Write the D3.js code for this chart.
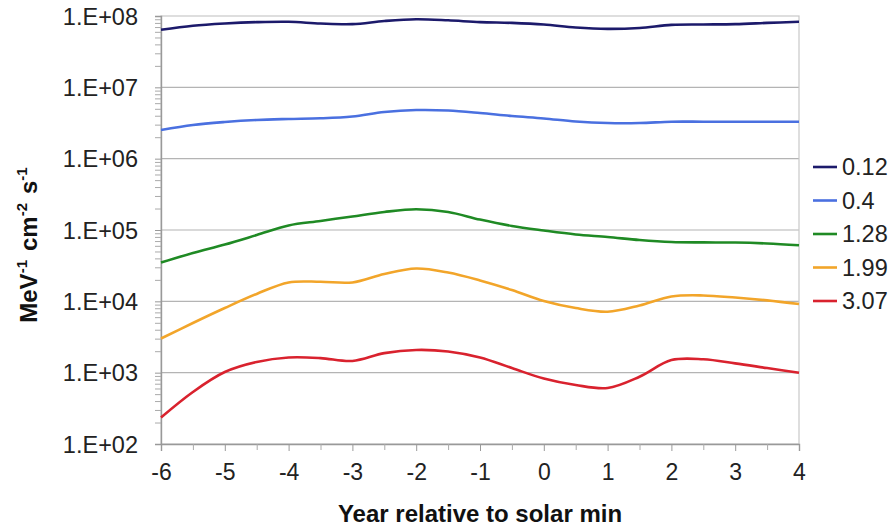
<!DOCTYPE html>
<html>
<head>
<meta charset="utf-8">
<script src="https://cdn.jsdelivr.net/npm/d3@7"></script>
<style>
  body { margin: 0; background: #fff; }
  svg { font-family: "Liberation Sans", Arial, sans-serif; }
</style>
</head>
<body>
<div id="chart"></div>
<script>
// years relative to solar minimum (half-year steps)
var years = [-6, -5.5, -5, -4.5, -4, -3.5, -3, -2.5, -2, -1.5, -1, -0.5, 0, 0.5, 1, 1.5, 2, 2.5, 3, 3.5, 4];

// flux per energy channel
var flux012 = [6.4e7, 7.3e7, 7.85e7, 8.2e7, 8.3e7, 7.85e7, 7.7e7, 8.5e7, 9.0e7, 8.7e7, 8.2e7, 8.0e7, 7.6e7, 6.9e7, 6.6e7, 6.8e7, 7.5e7, 7.6e7, 7.7e7, 8.0e7, 8.3e7];
var flux04 = [2.52e6, 2.97e6, 3.27e6, 3.49e6, 3.6e6, 3.68e6, 3.9e6, 4.5e6, 4.8e6, 4.73e6, 4.37e6, 3.96e6, 3.66e6, 3.32e6, 3.16e6, 3.16e6, 3.3e6, 3.3e6, 3.3e6, 3.3e6, 3.3e6];
var flux128 = [3.5e4, 4.76e4, 6.26e4, 8.5e4, 1.16e5, 1.34e5, 1.55e5, 1.79e5, 1.95e5, 1.79e5, 1.4e5, 1.14e5, 9.84e4, 8.65e4, 7.98e4, 7.24e4, 6.79e4, 6.7e4, 6.67e4, 6.47e4, 6.1e4];
var flux199 = [3.01e3, 4.97e3, 8.06e3, 1.27e4, 1.84e4, 1.88e4, 1.84e4, 2.42e4, 2.88e4, 2.53e4, 1.96e4, 1.44e4, 1.01e4, 8.06e3, 7.16e3, 8.74e3, 1.17e4, 1.21e4, 1.13e4, 1.03e4, 9.18e3];
var flux307 = [235, 536, 1020, 1410, 1630, 1600, 1460, 1880, 2080, 1980, 1630, 1160, 828, 671, 610, 877, 1500, 1540, 1350, 1160, 998];

var seriesNames = ["0.12", "0.4", "1.28", "1.99", "3.07"];
var seriesData = [flux012, flux04, flux128, flux199, flux307];
var seriesColors = ["#1c1a6b", "#4a70e0", "#1f8a24", "#f2a52a", "#d9222e"];

var xTicks = [-6, -5, -4, -3, -2, -1, 0, 1, 2, 3, 4];
var yTicks = [1e2, 1e3, 1e4, 1e5, 1e6, 1e7, 1e8];

var W = 896, H = 529;
var margin = {top: 16, right: 97, bottom: 85, left: 161};
var width = W - margin.left - margin.right,
    height = H - margin.top - margin.bottom;

var svg = d3.select("#chart").append("svg")
  .attr("width", W)
  .attr("height", H);

var g = svg.append("g")
  .attr("transform", "translate(" + margin.left + "," + margin.top + ")");

var x = d3.scaleLinear().domain([-6, 4]).range([0, width]);
var y = d3.scaleLog().domain([1e2, 1e8]).range([height, 0]);

// gridlines at each decade
g.append("g")
  .selectAll("line")
  .data(yTicks.slice(1, -1))
  .join("line")
    .attr("x1", 0).attr("x2", width)
    .attr("y1", function(d) { return y(d); })
    .attr("y2", function(d) { return y(d); })
    .attr("stroke", "#b4b4b4")
    .attr("stroke-width", 1.2);

// plot frame
g.append("rect")
  .attr("width", width).attr("height", height)
  .attr("fill", "none")
  .attr("stroke", "#c8c8c8")
  .attr("stroke-width", 1.2);

// minor y ticks (2..9 of every decade)
var minorY = [];
yTicks.slice(0, -1).forEach(function(d) {
  for (var k = 2; k < 10; k++) minorY.push(d * k);
});

var yAxis = g.append("g")
  .call(d3.axisLeft(y).tickValues(yTicks).tickSize(6).tickPadding(17)
    .tickFormat(function(d) { return "1.E+" + d3.format("02d")(Math.round(Math.log10(d))); }));
yAxis.selectAll(".tick text").attr("font-size", 23.5).attr("fill", "#222").attr("dy", "0.35em");
yAxis.selectAll(".tick line").attr("stroke", "#999");
yAxis.select(".domain").attr("stroke", "#999").attr("stroke-width", 1.4);

g.append("g")
  .call(d3.axisLeft(y).tickValues(minorY).tickSize(6).tickFormat(""))
  .call(function(s) { s.select(".domain").remove(); })
  .selectAll(".tick line").attr("stroke", "#aaa");

var xAxis = g.append("g")
  .attr("transform", "translate(0," + height + ")")
  .call(d3.axisBottom(x).tickValues(xTicks).tickSize(7).tickPadding(13)
    .tickFormat(function(d) { return String(d); }));
xAxis.selectAll(".tick text").attr("font-size", 23).attr("fill", "#222");
xAxis.selectAll(".tick line").attr("stroke", "#999");
xAxis.select(".domain").attr("stroke", "#999").attr("stroke-width", 1.4);

g.append("g")
  .attr("transform", "translate(0," + height + ")")
  .call(d3.axisBottom(x).tickValues(d3.range(-5.5, 4, 1)).tickSize(6).tickFormat(""))
  .call(function(s) { s.select(".domain").remove(); })
  .selectAll(".tick line").attr("stroke", "#aaa");

// lines
var line = d3.line()
  .x(function(d) { return x(d[0]); })
  .y(function(d) { return y(d[1]); })
  .curve(d3.curveCatmullRom);

seriesData.forEach(function(vals, i) {
  g.append("path")
    .datum(years.map(function(yr, j) { return [yr, vals[j]]; }))
    .attr("fill", "none")
    .attr("stroke", seriesColors[i])
    .attr("stroke-width", 2.6)
    .attr("d", line);
});

// legend
var legend = svg.append("g").attr("transform", "translate(813,167)");
seriesNames.forEach(function(name, i) {
  var row = legend.append("g").attr("transform", "translate(0," + (i * 33.5) + ")");
  row.append("line")
    .attr("x1", 0).attr("x2", 24)
    .attr("stroke", seriesColors[i]).attr("stroke-width", 2.6);
  row.append("text")
    .attr("x", 29).attr("dy", "0.35em")
    .attr("font-size", 23.5).attr("fill", "#222")
    .text(name);
});

// axis titles
svg.append("text")
  .attr("x", margin.left + width / 2).attr("y", 522)
  .attr("text-anchor", "middle")
  .attr("font-size", 24).attr("font-weight", "bold").attr("fill", "#111")
  .text("Year relative to solar min");

var yt = svg.append("text")
  .attr("transform", "translate(37,245) rotate(-90)")
  .attr("text-anchor", "middle")
  .attr("font-size", 24).attr("font-weight", "bold").attr("fill", "#111");
yt.append("tspan").text("MeV");
yt.append("tspan").attr("font-size", 15).attr("dy", -10).text("-1");
yt.append("tspan").attr("dy", 10).attr("dx", 9).text("cm");
yt.append("tspan").attr("font-size", 15).attr("dy", -10).text("-2");
yt.append("tspan").attr("dy", 10).attr("dx", 9).text("s");
yt.append("tspan").attr("font-size", 15).attr("dy", -10).text("-1");
</script>
</body>
</html>
